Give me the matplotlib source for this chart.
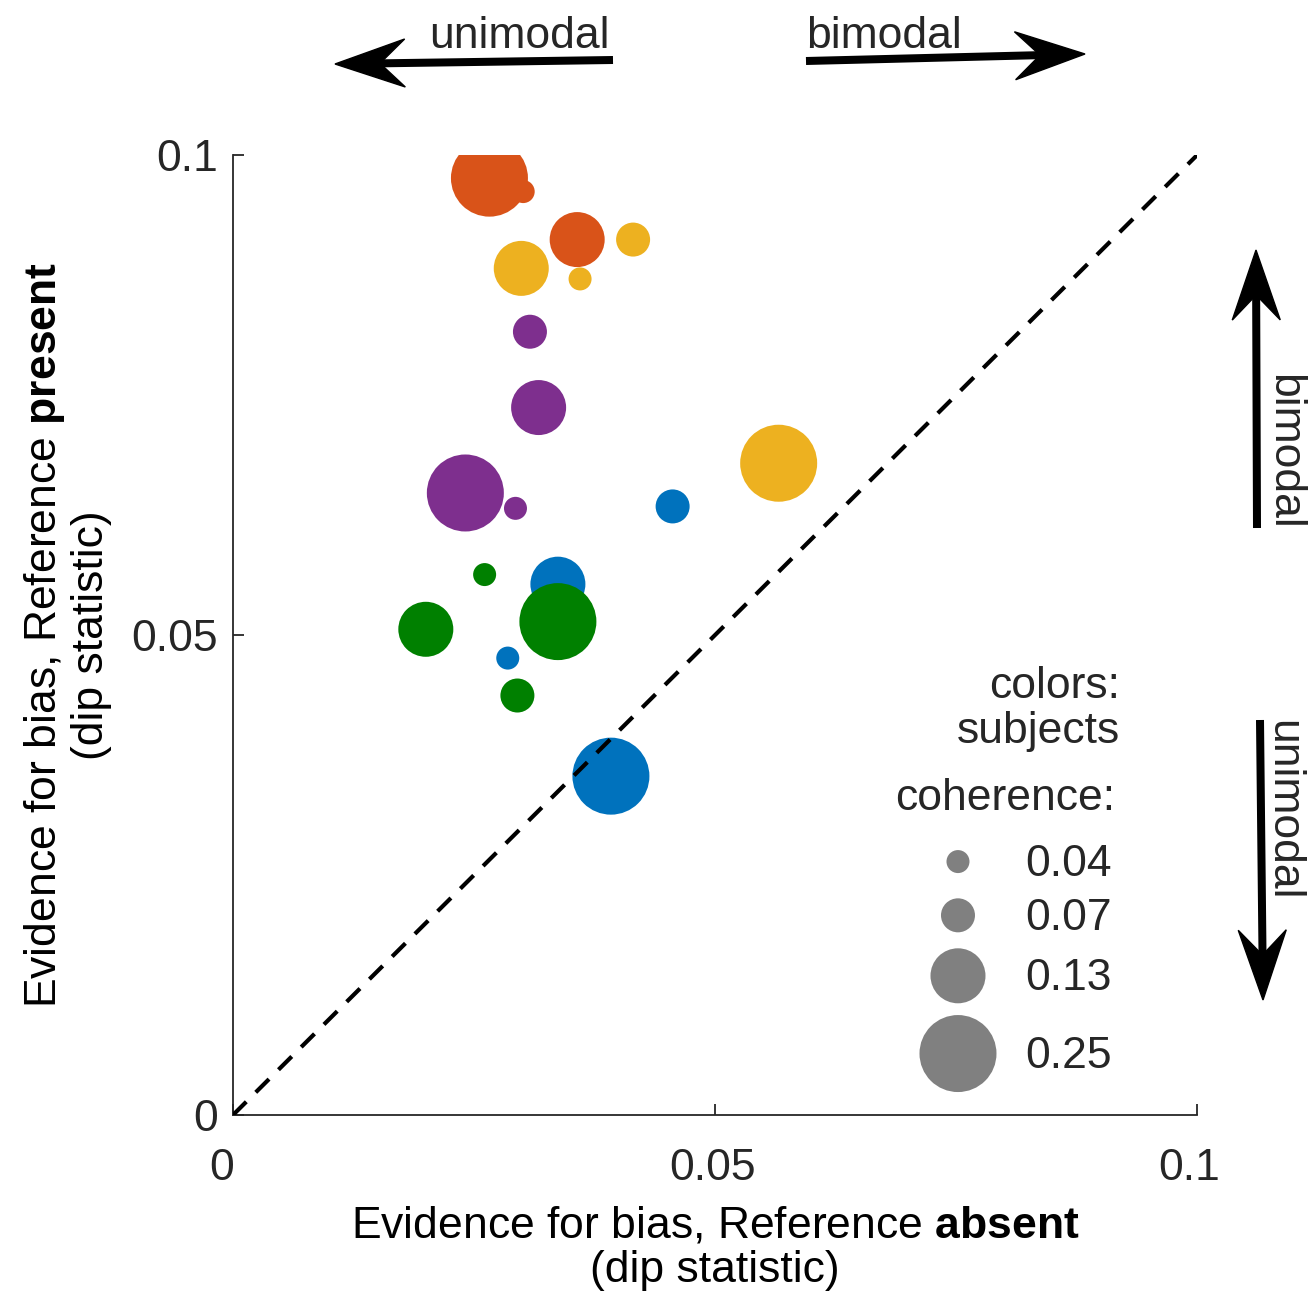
import numpy as np
import matplotlib
matplotlib.use("Agg")
import matplotlib.pyplot as plt
from matplotlib.patches import Polygon
from matplotlib.transforms import ScaledTranslation

plt.rcParams["font.family"] = ["Liberation Sans", "DejaVu Sans"]
plt.rcParams["mathtext.fontset"] = "custom"
plt.rcParams["mathtext.rm"] = "Liberation Sans"
plt.rcParams["mathtext.bf"] = "Liberation Sans:bold"
plt.rcParams["mathtext.it"] = "Liberation Sans:italic"

TEXT = "#262626"

# dip statistic per subject, one point per coherence level
subjects = ["S1", "S2", "S3", "S4", "S5"]
subject_colors = ["#D95319", "#EDB120", "#7E2F8E", "#0072BD", "#008000"]

dip_absent = {
    "S1": [0.0301, 0.0357, 0.0266],
    "S2": [0.0360, 0.0415, 0.0299, 0.0566],
    "S3": [0.0293, 0.0308, 0.0317, 0.0241],
    "S4": [0.0285, 0.0456, 0.0337, 0.0392],
    "S5": [0.0261, 0.0295, 0.0200, 0.0337],
}
dip_present = {
    "S1": [0.0962, 0.0912, 0.0976],
    "S2": [0.0871, 0.0912, 0.0882, 0.0679],
    "S3": [0.0632, 0.0816, 0.0737, 0.0648],
    "S4": [0.0476, 0.0634, 0.0553, 0.0353],
    "S5": [0.0563, 0.0437, 0.0506, 0.0514],
}
coherence = {
    "S1": [0.04, 0.13, 0.25],
    "S2": [0.04, 0.07, 0.13, 0.25],
    "S3": [0.04, 0.07, 0.13, 0.25],
    "S4": [0.04, 0.07, 0.13, 0.25],
    "S5": [0.04, 0.07, 0.13, 0.25],
}
coh_levels = [0.04, 0.07, 0.13, 0.25]

# marker diameter (pixels at 100 dpi) for each coherence level
diam_px = {0.04: 23, 0.07: 34, 0.13: 55, 0.25: 77}


def msize(c):
    return (diam_px[c] * 0.72) ** 2


fig = plt.figure(figsize=(13.09, 12.98), dpi=100)
ax = fig.add_axes([0.178, 0.141, 0.7365, 0.7395])

for subj, col in zip(subjects, subject_colors):
    sizes = [msize(c) for c in coherence[subj]]
    ax.scatter(dip_absent[subj], dip_present[subj], s=sizes, color=col,
               edgecolors="none", zorder=2)

ax.plot([0, 0.1], [0, 0.1], color="black", linestyle=(0, (4.5, 3.2)),
        linewidth=3, zorder=3)

ax.set_xlim(0, 0.1)
ax.set_ylim(0, 0.1)
ax.set_xticks([0, 0.05, 0.1])
ax.set_yticks([0, 0.05, 0.1])
ax.set_xticklabels(["0", "0.05", "0.1"])
ax.set_yticklabels(["0", "0.05", "0.1"])
ax.spines["top"].set_visible(False)
ax.spines["right"].set_visible(False)
for s in ("left", "bottom"):
    ax.spines[s].set_color(TEXT)
    ax.spines[s].set_linewidth(1.3)
ax.tick_params(direction="in", length=8, width=1.3, color=TEXT,
               labelsize=32, labelcolor=TEXT)
ax.tick_params(axis="x", pad=24)
ax.tick_params(axis="y", pad=11)

# nudge the end x labels inward a little
for lab, dx in zip(ax.get_xticklabels(), [-11, -2, -8]):
    lab.set_transform(lab.get_transform() +
                      ScaledTranslation(dx / 100, 0, fig.dpi_scale_trans))

ax.set_xlabel("Evidence for bias, Reference $\\mathbf{absent}$\n(dip statistic)",
              fontsize=32, color="black", linespacing=1.08, labelpad=12)
ax.set_ylabel("Evidence for bias, Reference $\\mathbf{present}$\n(dip statistic)",
              fontsize=32, color="black", linespacing=1.12, labelpad=14)

# size legend inside the axes
ax.text(0.92, 0.446, "colors:", transform=ax.transAxes, ha="right",
        va="center", fontsize=32, color=TEXT)
ax.text(0.92, 0.400, "subjects", transform=ax.transAxes, ha="right",
        va="center", fontsize=32, color=TEXT)
ax.text(0.915, 0.330, "coherence:", transform=ax.transAxes, ha="right",
        va="center", fontsize=32, color=TEXT)
leg_y = [0.264, 0.208, 0.145, 0.064]
for c, yy in zip(coh_levels, leg_y):
    ax.scatter([0.752], [yy], s=msize(c), color="#808080", edgecolors="none",
               transform=ax.transAxes, clip_on=False, zorder=2)
    ax.text(0.822, yy - 0.003, f"{c:.2f}", transform=ax.transAxes, ha="left",
            va="center", fontsize=32, color=TEXT)

# direction arrows around the axes (figure pixel coordinates)
W, H = 1309, 1298


def fig_arrow(x0, y0, x1, y1, head_len=70, head_w=48, notch=25, lw=8):
    p0 = np.array([x0, H - y0], float)
    p1 = np.array([x1, H - y1], float)
    d = (p1 - p0) / np.linalg.norm(p1 - p0)
    n = np.array([-d[1], d[0]])
    back = p1 - d * head_len
    nb = p1 - d * (head_len - notch)
    shaft_end = nb + d * 2
    fig.add_artist(plt.Line2D([p0[0] / W, shaft_end[0] / W],
                              [p0[1] / H, shaft_end[1] / H],
                              color="black", linewidth=lw * 0.72,
                              solid_capstyle="butt", transform=fig.transFigure))
    pts = [p1, back + n * head_w / 2, nb, back - n * head_w / 2]
    pts = [(p[0] / W, p[1] / H) for p in pts]
    fig.add_artist(Polygon(pts, closed=True, facecolor="black",
                           edgecolor="black", transform=fig.transFigure))


fig_arrow(613, 60, 335, 64)
fig_arrow(806, 61, 1085, 54)
fig_arrow(1257, 528, 1256, 250)
fig_arrow(1260, 720, 1263, 1000)

fig.text(610 / W, 1 - 36 / H, "unimodal", ha="right", va="center",
         fontsize=32, color=TEXT)
fig.text(806 / W, 1 - 36 / H, "bimodal", ha="left", va="center",
         fontsize=32, color=TEXT)
fig.text(1284 / W, 1 - 452 / H, "bimodal", ha="center", va="center",
         rotation=-90, fontsize=32, color=TEXT)
fig.text(1283 / W, 1 - 810 / H, "unimodal", ha="center", va="center",
         rotation=-90, fontsize=32, color=TEXT)

fig.savefig("out.png", dpi=100)
